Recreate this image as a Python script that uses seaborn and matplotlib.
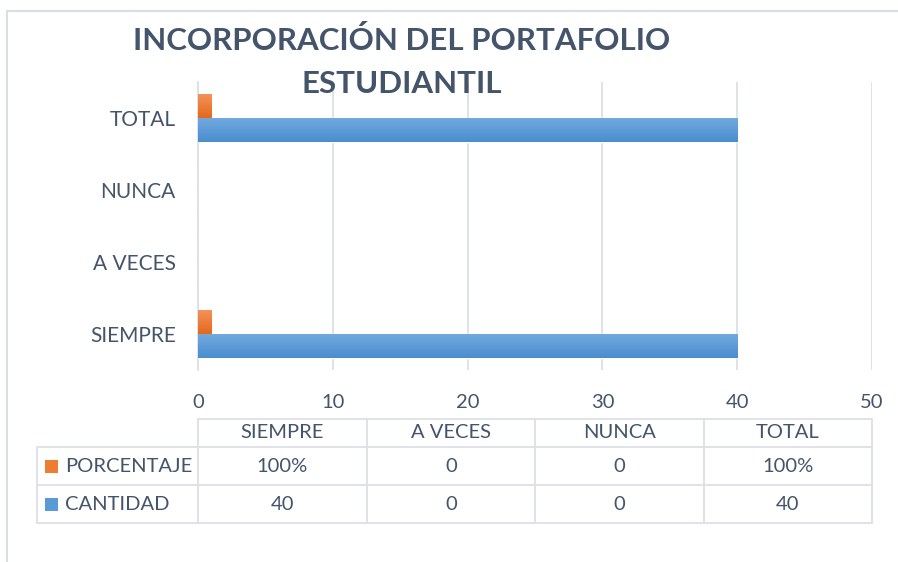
import numpy as np
import pandas as pd
import matplotlib
matplotlib.use("Agg")
import matplotlib.pyplot as plt
import seaborn as sns
from matplotlib.colors import LinearSegmentedColormap
from matplotlib.lines import Line2D
from matplotlib.patches import Rectangle
import matplotlib.transforms as mtransforms

# ---- data ----
categories = ["SIEMPRE", "A VECES", "NUNCA", "TOTAL"]
cantidad = [40, 0, 0, 40]
porcentaje = [1, 0, 0, 1]          # 100% plotted as 1
porcentaje_labels = ["100%", "0", "0", "100%"]
cantidad_labels = ["40", "0", "0", "40"]
series = ["PORCENTAJE", "CANTIDAD"]
x_ticks = [0, 10, 20, 30, 40, 50]
title_lines = ["INCORPORACIÓN DEL PORTAFOLIO", "ESTUDIANTIL"]

df = pd.DataFrame({
    "cat": categories * 2,
    "serie": ["CANTIDAD"] * 4 + ["PORCENTAJE"] * 4,
    "valor": cantidad + porcentaje,
})

BLUE = "#5B9BD5"
ORANGE = "#ED7D31"
TXT = "#44546A"
GRID = "#DCE0E7"
FS = 14.5

sns.set_theme(style="white")
plt.rcParams["font.family"] = ["Lato", "DejaVu Sans"]

W, H = 898, 562
fig = plt.figure(figsize=(W / 100, H / 100), dpi=100)
ax = fig.add_axes([198 / W, 1 - 370 / H, (872 - 198) / W, (370 - 82) / H])

order_top_down = categories[::-1]
sns.barplot(data=df, y="cat", x="valor", hue="serie", order=order_top_down,
            hue_order=series, palette={"PORCENTAJE": ORANGE, "CANTIDAD": BLUE},
            orient="h", width=2 / 3, ax=ax, legend=False, saturation=1)

# gradient fills on bars
cmaps = {
    ORANGE: LinearSegmentedColormap.from_list("o", ["#F4925A", "#E4691A"]),
    BLUE: LinearSegmentedColormap.from_list("b", ["#71A9DF", "#4A8DCE"]),
}
grad = np.linspace(0, 1, 64).reshape(-1, 1)
for p in list(ax.patches):
    w = p.get_width()
    if w <= 0:
        continue
    fc = matplotlib.colors.to_hex(p.get_facecolor())
    key = ORANGE if fc.lower() == ORANGE.lower() else BLUE
    x0, y0, hgt = p.get_x(), p.get_y(), p.get_height()
    ax.imshow(grad, cmap=cmaps[key], aspect="auto", origin="upper",
              extent=(x0, x0 + w, y0 + hgt, y0), zorder=3, interpolation="bilinear")

ax.set_xlim(0, 50)
ax.set_ylim(3.5, -0.5)
ax.set_xticks(x_ticks)
ax.set_xticklabels([str(t) for t in x_ticks])
ax.xaxis.grid(True, color=GRID, lw=1.3)
ax.set_axisbelow(True)
for s in ["top", "right", "bottom"]:
    ax.spines[s].set_visible(False)
ax.spines["left"].set_color(GRID)
ax.spines["left"].set_linewidth(1.3)
ax.tick_params(axis="both", length=0, colors=TXT, labelsize=FS)
ax.tick_params(axis="y", labelsize=15, pad=16)
ax.tick_params(axis="x", pad=17)
ax.set_xlabel("")
ax.set_ylabel("")

# ---- title ----
fig.text(402 / W, 1 - 40 / H, title_lines[0], ha="center", va="center",
         fontsize=22.5, fontweight="bold", color=TXT)
fig.text(402 / W, 1 - 84 / H, title_lines[1], ha="center", va="center",
         fontsize=22.5, fontweight="bold", color=TXT)

# ---- data table ----
trans = mtransforms.blended_transform_factory(ax.transData, fig.transFigure)
ftrans = fig.transFigure
def fy(py):
    return 1 - py / H
col_edges = np.linspace(0, 50, len(categories) + 1)
y_head_top, y_r1, y_r2, y_r3 = 419, 447, 485, 523
LC = "#DCE0E7"
fig.add_artist(Line2D([col_edges[0], col_edges[-1]], [fy(y_head_top)] * 2, transform=trans, color=LC, lw=1.3))
for yy in (y_r1, y_r2, y_r3):
    fig.add_artist(Line2D([37 / W, 872 / W], [fy(yy)] * 2, transform=ftrans, color=LC, lw=1.3))
fig.add_artist(Line2D([37 / W, 37 / W], [fy(y_r1), fy(y_r3)], transform=ftrans, color=LC, lw=1.3))
for xe in col_edges:
    fig.add_artist(Line2D([xe, xe], [fy(y_head_top), fy(y_r3)], transform=trans, color=LC, lw=1.3))
centers = (col_edges[:-1] + col_edges[1:]) / 2
rows = [(y_head_top, y_r1, categories), (y_r1, y_r2, porcentaje_labels), (y_r2, y_r3, cantidad_labels)]
for ytop, ybot, labels in rows:
    yc = fy((ytop + ybot) / 2)
    for xc, lab in zip(centers, labels):
        fig.text(xc, yc, lab, transform=trans, ha="center", va="center",
                 fontsize=FS, color=TXT)
for (ytop, ybot), name, col in [((y_r1, y_r2), series[0], ORANGE), ((y_r2, y_r3), series[1], BLUE)]:
    yc = (ytop + ybot) / 2
    fig.add_artist(Rectangle((45 / W, fy(yc + 7)), 13 / W, 13 / H, transform=ftrans,
                             facecolor=col, edgecolor="none"))
    fig.text(65 / W, fy(yc), name, transform=ftrans, ha="left", va="center",
             fontsize=FS, color=TXT)

# ---- chart frame ----
fig.add_artist(Line2D([7 / W, 7 / W], [0, fy(11)], transform=ftrans, color="#D9DEE5", lw=1.5))
fig.add_artist(Line2D([7 / W, 1], [fy(11), fy(11)], transform=ftrans, color="#D9DEE5", lw=1.5))

fig.savefig("out.png", dpi=100)
